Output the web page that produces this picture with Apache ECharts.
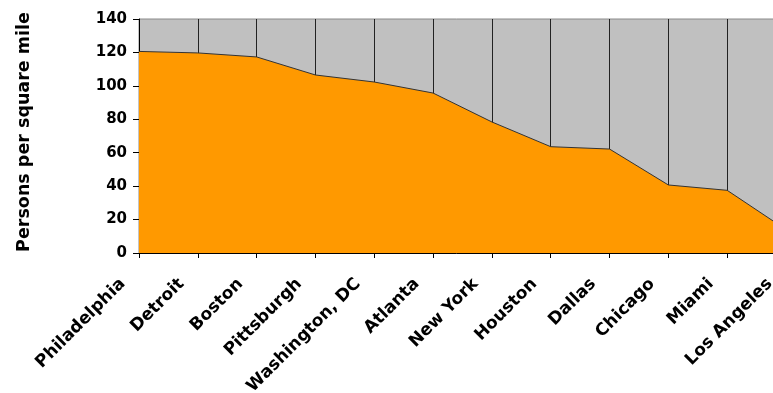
<!DOCTYPE html>
<html>
<head>
<meta charset="utf-8">
<script src="https://cdn.jsdelivr.net/npm/echarts@6/dist/echarts.min.js"></script>
<style>
  html, body { margin: 0; padding: 0; background: #fff; }
  #chart { width: 773px; height: 393px; }
</style>
</head>
<body>
<div id="chart"></div>
<script>
// Population density by city
const cities = ['Philadelphia', 'Detroit', 'Boston', 'Pittsburgh', 'Washington, DC', 'Atlanta',
                'New York', 'Houston', 'Dallas', 'Chicago', 'Miami', 'Los Angeles'];
const density = [120.6, 119.7, 117.3, 106.5, 102.3, 95.7, 78.4, 63.6, 62.2, 40.7, 37.5, 14];
const yTicks = [0, 20, 40, 60, 80, 100, 120, 140];
const yTitle = 'Persons per square mile';

const font = 'DejaVu Sans';
const chart = echarts.init(document.getElementById('chart'), null, { renderer: 'canvas' });

chart.setOption({
  animation: false,
  grid: {
    // the last category sits just past the right edge of the canvas
    left: 139, top: 19, width: 647, bottom: 140,
    outerBoundsMode: 'none',
    containLabel: false,
    show: true, backgroundColor: '#c0c0c0', borderColor: '#8a8a8a', borderWidth: 1
  },
  xAxis: {
    type: 'category',
    data: cities,
    boundaryGap: false,
    axisLine: { lineStyle: { color: '#000', width: 1 } },
    axisTick: { show: true, length: 5, inside: false, lineStyle: { color: '#000' } },
    splitLine: { show: true, lineStyle: { color: '#222', width: 1 } },
    axisLabel: {
      interval: 0, rotate: 45, margin: 12,
      hideOverlap: false,
      color: '#000', fontFamily: font, fontWeight: 'bold', fontSize: 17,
      padding: [0, 23, 0, 0]
    }
  },
  yAxis: {
    type: 'value',
    min: yTicks[0], max: yTicks[yTicks.length - 1], interval: 20,
    name: yTitle,
    nameLocation: 'middle', nameRotate: 90, nameGap: 106,
    nameTextStyle: {
      color: '#000', fontFamily: font, fontWeight: 'bold', fontSize: 17.5,
      padding: [0, 0, 0, 8]
    },
    axisLine: { show: true, lineStyle: { color: '#000', width: 1 } },
    axisTick: { show: true, length: 6, lineStyle: { color: '#000' } },
    splitLine: { show: false },
    axisLabel: {
      margin: 12, color: '#000', fontFamily: font, fontWeight: 'bold', fontSize: 15
    }
  },
  series: [{
    type: 'line',
    data: density,
    showSymbol: false,
    symbol: 'none',
    lineStyle: { color: '#333', width: 1 },
    areaStyle: { color: '#ff9900', opacity: 1 },
    z: 2
  }]
});
</script>
</body>
</html>
